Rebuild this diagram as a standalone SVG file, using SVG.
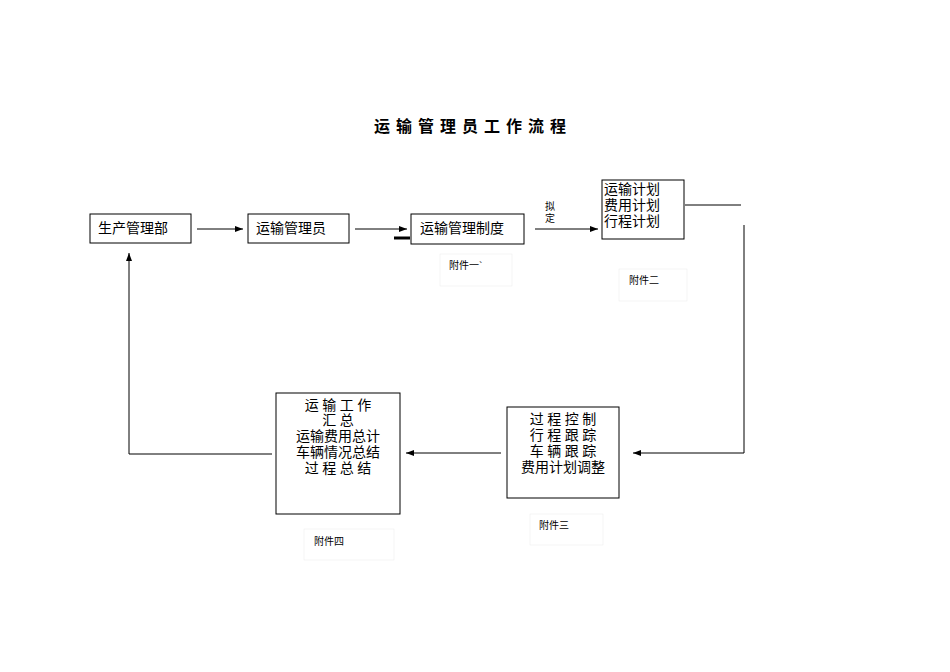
<svg xmlns="http://www.w3.org/2000/svg" width="950" height="672" viewBox="0 0 950 672">
<defs>
<marker id="a" markerWidth="8" markerHeight="6" refX="8" refY="3" orient="auto" markerUnits="userSpaceOnUse"><path d="M0,0L8,3L0,6z" fill="#000"/></marker>
<style>
.b{fill:#fff;stroke:#000;stroke-width:1}
.t{font-family:"Liberation Serif","Noto Sans CJK SC",serif;font-size:14px;fill:#000}
.s{font-family:"Liberation Serif","Noto Sans CJK SC",serif;font-size:10px;fill:#000}
.c{fill:none;stroke:#000;stroke-width:1}
.f{fill:#fff;stroke:#eee;stroke-width:0.6}
</style>
</defs>
<rect width="950" height="672" fill="#fff"/>
<text x="473" y="132" text-anchor="middle" font-family="Liberation Serif,'Noto Sans CJK SC',serif" font-size="16" font-weight="bold" letter-spacing="6">运输管理员工作流程</text>
<g id="connectors">
<line class="c" x1="197" y1="229" x2="243" y2="229" marker-end="url(#a)"/>
<line class="c" x1="355" y1="229" x2="407" y2="229" marker-end="url(#a)"/>
<line x1="394" y1="238" x2="410" y2="238" stroke="#000" stroke-width="3"/>
<line class="c" x1="535" y1="229" x2="598" y2="229" marker-end="url(#a)"/>
<line class="c" x1="685" y1="205" x2="741" y2="205"/>
<polyline class="c" points="744,225 744,453 633,453" marker-end="url(#a)"/>
<line class="c" x1="501" y1="453" x2="406" y2="453" marker-end="url(#a)"/>
<polyline class="c" points="272,454 129,454 129,253" marker-end="url(#a)"/>
</g>
<g id="n1"><rect class="b" x="90" y="214" width="101" height="29"/><text class="t" x="98" y="233">生产管理部</text></g>
<g id="n2"><rect class="b" x="248" y="214" width="101" height="29"/><text class="t" x="256" y="233">运输管理员</text></g>
<g id="n3"><rect class="b" x="411" y="214" width="113" height="30"/><text class="t" x="420" y="233">运输管理制度</text></g>
<g id="l1"><rect class="f" x="440" y="254" width="72" height="32"/><text class="s" x="449" y="269">附件一`</text></g>
<g id="l0"><text class="s" x="545" y="210">拟</text><text class="s" x="545" y="222">定</text></g>
<g id="n4"><rect class="b" x="602" y="180" width="82" height="59"/><text class="t" x="604" y="194">运输计划</text><text class="t" x="604" y="210">费用计划</text><text class="t" x="604" y="226">行程计划</text></g>
<g id="l2"><rect class="f" x="619" y="269" width="68" height="32"/><text class="s" x="629" y="284">附件二</text></g>
<g id="n5"><rect class="b" x="507" y="407" width="112" height="91"/><g class="t" text-anchor="middle"><text x="563" y="424">过 程 控 制</text><text x="563" y="440">行 程 跟 踪</text><text x="563" y="456">车 辆 跟 踪</text><text x="563" y="472">费用计划调整</text></g></g>
<g id="l3"><rect class="f" x="530" y="514" width="73" height="31"/><text class="s" x="539" y="529">附件三</text></g>
<g id="n6"><rect class="b" x="276" y="393" width="124" height="121"/><g class="t" text-anchor="middle"><text x="338" y="410">运 输 工 作</text><text x="338" y="425">汇 总</text><text x="338" y="441">运输费用总计</text><text x="338" y="457">车辆情况总结</text><text x="338" y="473">过 程 总 结</text></g></g>
<g id="l4"><rect class="f" x="304" y="529" width="90" height="31"/><text class="s" x="314" y="545">附件四</text></g>
</svg>
